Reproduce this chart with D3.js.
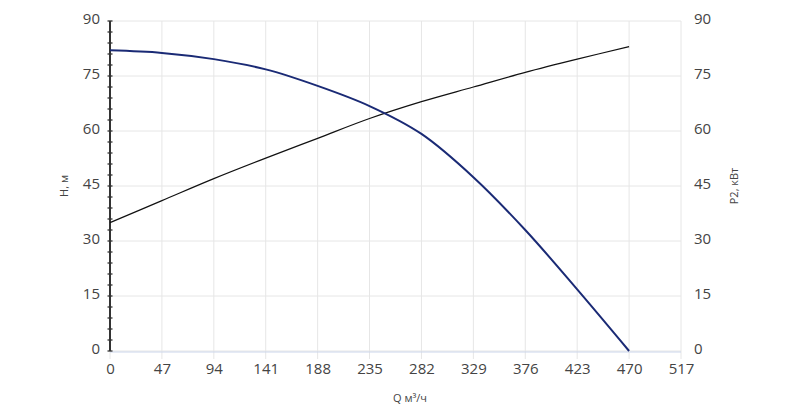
<!DOCTYPE html><html><head><meta charset="utf-8"><script src="https://cdn.jsdelivr.net/npm/d3@7"></script>
<style>body{margin:0;background:#fff}text{font-family:"Open Sans",sans-serif;fill:#444}</style></head><body><svg width="800" height="408"></svg><script>
const qTicks=[0,47,94,141,188,235,282,329,376,423,470,517];
const yTicks=[0,15,30,45,60,75,90];
const qVals=[0,47,94,141,188,235,282,329,376,423,470];
const hVals=[82,81.3,79.6,76.8,72.3,66.8,59.2,47.4,33,16.8,0];
const pVals=[35,41,47,52.6,58,63.4,68,72,76,79.6,83];
const svg=d3.select("svg");
const x=d3.scaleLinear().domain([0,517]).range([110,681]);
const y=d3.scaleLinear().domain([0,90]).range([351,21]);
const g=svg.append("g");
qTicks.forEach(t=>g.append("line").attr("x1",x(t)).attr("x2",x(t)).attr("y1",y(90)).attr("y2",y(0)+8).attr("stroke","#e6e6e6"));
yTicks.forEach(t=>g.append("line").attr("x1",x(0)).attr("x2",x(517)).attr("y1",y(t)).attr("y2",y(t)).attr("stroke","#e6e6e6"));
g.append("line").attr("x1",x(0)).attr("x2",x(517)).attr("y1",y(0)+1).attr("y2",y(0)+1).attr("stroke","#ccd6eb");
const xa=svg.append("g").attr("transform","translate(0,"+(y(0)+8)+")").call(d3.axisBottom(x).tickValues(qTicks).tickSize(0).tickPadding(4));
xa.select(".domain").remove();xa.selectAll("text").attr("font-size",15);
const ya=svg.append("g").attr("transform","translate(100,0)").call(d3.axisLeft(y).tickValues(yTicks).tickSize(0).tickPadding(0));
ya.select(".domain").remove();ya.selectAll("text").attr("font-size",15).attr("dy","0.15em");
const yr=svg.append("g").attr("transform","translate(694,0)").call(d3.axisRight(y).tickValues(yTicks).tickSize(0).tickPadding(0));
yr.select(".domain").remove();yr.selectAll("text").attr("font-size",15).attr("dy","0.15em");
svg.append("line").attr("x1",x(0)).attr("x2",x(0)).attr("y1",y(90)).attr("y2",y(0)).attr("stroke","#333").attr("stroke-width",2);
d3.range(0,91,3).forEach(t=>svg.append("line").attr("x1",x(0)-2.5).attr("x2",x(0)+2.5).attr("y1",y(t)).attr("y2",y(t)).attr("stroke","#333").attr("stroke-width",1.3));
const ln=d3.line().curve(d3.curveCatmullRom);
svg.append("path").attr("d",ln(qVals.map((q,i)=>[x(q),y(pVals[i])]))).attr("fill","none").attr("stroke","#111").attr("stroke-width",1.2);
svg.append("path").attr("d",ln(qVals.map((q,i)=>[x(q),y(hVals[i])]))).attr("fill","none").attr("stroke","#1a2a75").attr("stroke-width",2);
svg.append("text").attr("transform","translate(68,186) rotate(-90)").attr("text-anchor","middle").attr("font-size",11).text("H, м");
svg.append("text").attr("transform","translate(738,186) rotate(-90)").attr("text-anchor","middle").attr("font-size",11).text("P2, кВт");
svg.append("text").attr("x",410).attr("y",402).attr("text-anchor","middle").attr("font-size",11).text("Q м³/ч");
</script></body></html>
